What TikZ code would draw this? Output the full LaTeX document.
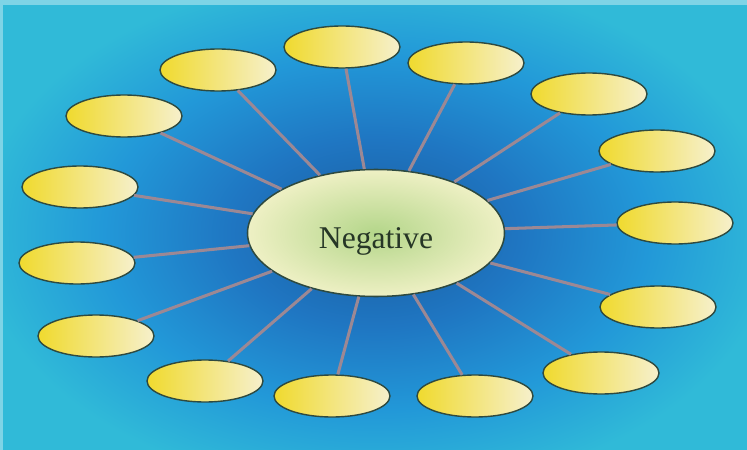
\documentclass[tikz,border=0pt]{standalone}
\usepackage{fontspec}
\setmainfont{Liberation Serif}
\usetikzlibrary{shapes.geometric}
\definecolor{cBgDark}{HTML}{1A5C9E}
\definecolor{cBgMid}{HTML}{1F76C2}
\definecolor{cBgLight}{HTML}{2298D8}
\definecolor{cBgCyan}{HTML}{30BAD8}
\definecolor{cTop}{HTML}{7ED4E6}
\definecolor{cYellow}{HTML}{F0DA2E}
\definecolor{cPale}{HTML}{F6F0CC}
\definecolor{cHubIn}{HTML}{B4D68A}
\definecolor{cHubOut}{HTML}{EEF0C4}
\definecolor{cRim}{HTML}{2E4A40}
\definecolor{cSpoke}{HTML}{9C8894}
\definecolor{cInk}{HTML}{263626}
\pgfdeclareradialshading{bgglow}{\pgfpoint{0bp}{0bp}}{%
  color(0bp)=(cBgDark); color(9bp)=(cBgMid); color(17bp)=(cBgLight);
  color(25bp)=(cBgCyan); color(50bp)=(cBgCyan)}

\begin{document}
\begin{tikzpicture}[x=0.03cm,y=-0.03cm,
      sat/.style={ellipse,draw=cRim,line width=1.2pt,inner sep=0pt,
                  minimum width=3.48cm,minimum height=1.26cm,
                  left color=cYellow,right color=cPale},
      hub/.style={ellipse,draw=cRim,line width=1.3pt,inner sep=0pt,
                  minimum width=7.71cm,minimum height=3.81cm,
                  inner color=cHubIn,outer color=cHubOut,
                  font=\fontsize{27}{30}\selectfont,text=cInk},
      spoke/.style={cSpoke,line width=2.6pt}]
    \useasboundingbox (0,0) rectangle (747,450);
    % backdrop
    \fill[cBgCyan] (0,0) rectangle (747,450);
    \shade[shading=bgglow] (376,233) ellipse [x radius=400,y radius=260];
    \fill[cTop] (0,0) rectangle (747,5);
    \fill[cTop] (0,0) rectangle (3,450);
    % hub and satellites
    \node[hub] (neg) at (376,233) {\raisebox{-7pt}[\height][\depth]{Negative}};
    \node[sat] (s1) at (342,47) {};
    \node[sat] (s2) at (466,63) {};
    \node[sat] (s3) at (589,94) {};
    \node[sat] (s4) at (657,151) {};
    \node[sat] (s5) at (675,223) {};
    \node[sat] (s6) at (658,307) {};
    \node[sat] (s7) at (601,373) {};
    \node[sat] (s8) at (475,396) {};
    \node[sat] (s9) at (332,396) {};
    \node[sat] (s10) at (205,381) {};
    \node[sat] (s11) at (96,336) {};
    \node[sat] (s12) at (77,263) {};
    \node[sat] (s13) at (80,187) {};
    \node[sat] (s14) at (124,116) {};
    \node[sat] (s15) at (218,70) {};
    % spokes
    \draw[spoke] (neg) -- (s1);
    \draw[spoke] (neg) -- (s2);
    \draw[spoke] (neg) -- (s3);
    \draw[spoke] (neg) -- (s4);
    \draw[spoke] (neg) -- (s5);
    \draw[spoke] (neg) -- (s6);
    \draw[spoke] (neg) -- (s7);
    \draw[spoke] (neg) -- (s8);
    \draw[spoke] (neg) -- (s9);
    \draw[spoke] (neg) -- (s10);
    \draw[spoke] (neg) -- (s11);
    \draw[spoke] (neg) -- (s12);
    \draw[spoke] (neg) -- (s13);
    \draw[spoke] (neg) -- (s14);
    \draw[spoke] (neg) -- (s15);
  \end{tikzpicture}
\end{document}
